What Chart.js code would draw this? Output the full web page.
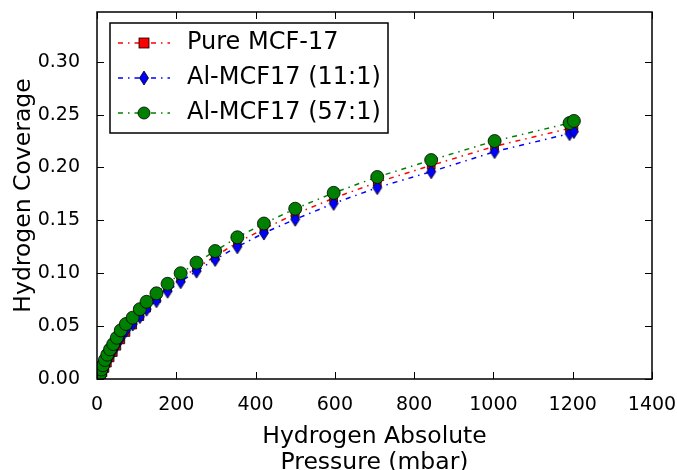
<!DOCTYPE html>
<html>
<head>
<meta charset="utf-8">
<script src="https://cdn.jsdelivr.net/npm/chart.js@4.4.0/dist/chart.umd.min.js"></script>
<style>
    html, body { margin: 0; padding: 0; background: #fff; }
    #wrap { width: 677px; height: 470px; }
</style>
</head>
<body>
<div id="wrap"><canvas id="coverageChart" width="677" height="470"></canvas></div>
<script>
// hydrogen pressure (mbar), same points for all three samples
const pressure = [5, 8, 11, 15, 20, 26, 33, 41, 50, 60, 73, 90, 108, 125, 150, 178, 211, 251, 298, 354, 421, 500, 597, 707, 843, 1003, 1192, 1203];
// hydrogen coverage
const pureCov = [0.000, 0.001, 0.003, 0.006, 0.010, 0.015, 0.020, 0.025, 0.031, 0.037, 0.044, 0.051, 0.059, 0.067, 0.076, 0.086, 0.095, 0.105, 0.116, 0.129, 0.142, 0.156, 0.171, 0.186, 0.202, 0.220, 0.237, 0.239];
const al11Cov = [0.001, 0.002, 0.005, 0.008, 0.012, 0.017, 0.022, 0.027, 0.033, 0.039, 0.046, 0.052, 0.059, 0.066, 0.074, 0.083, 0.092, 0.102, 0.113, 0.125, 0.138, 0.151, 0.166, 0.181, 0.196, 0.215, 0.232, 0.234];
const al57Cov = [0.002, 0.005, 0.009, 0.013, 0.018, 0.023, 0.028, 0.033, 0.039, 0.046, 0.052, 0.058, 0.066, 0.073, 0.081, 0.090, 0.100, 0.110, 0.121, 0.134, 0.147, 0.161, 0.176, 0.191, 0.207, 0.225, 0.242, 0.244];

const seriesLabels = ["Pure MCF-17", "Al-MCF17 (11:1)", "Al-MCF17 (57:1)"];
const yTicks = [0, 0.05, 0.10, 0.15, 0.20, 0.25, 0.30];
const xTicks = [0, 200, 400, 600, 800, 1000, 1200, 1400];

const FONT = "'DejaVu Sans', 'Bitstream Vera Sans', sans-serif";
const dashDot = [5, 5, 1.5, 5];

function toPoints(xs, ys) {
    let pts = [];
    for (let i = 0; i < xs.length; i++) {
        pts.push({x: xs[i], y: ys[i]});
    }
    return pts;
}

// thin diamond marker like matplotlib 'd'
function makeDiamond() {
    let c = document.createElement("canvas");
    c.width = 12;
    c.height = 16;
    let g = c.getContext("2d");
    g.beginPath();
    g.moveTo(6, 1);
    g.lineTo(10.5, 8);
    g.lineTo(6, 15);
    g.lineTo(1.5, 8);
    g.closePath();
    g.fillStyle = "#0000ff";
    g.fill();
    g.lineWidth = 0.8;
    g.strokeStyle = "#000";
    g.stroke();
    return c;
}
const diamond = makeDiamond();

// drop the label overhang padding so the plot box sits where layout.padding says
function noPadding(scale) {
    scale.paddingTop = 0;
    scale.paddingBottom = 0;
    scale.paddingLeft = 0;
    scale.paddingRight = 0;
}

// frame, inward ticks and legend box drawn by hand
const framePlugin = {
    id: "frame",
    afterDraw: function (chart) {
        let ctx = chart.ctx;
        let a = chart.chartArea;
        let xs = chart.scales.x;
        let ys = chart.scales.y;
        ctx.save();
        ctx.strokeStyle = "#000";
        ctx.lineWidth = 1.5;
        ctx.strokeRect(a.left, a.top, a.right - a.left, a.bottom - a.top);
        ctx.lineWidth = 1;
        ctx.beginPath();
        xTicks.forEach(function (v) {
            let px = Math.round(xs.getPixelForValue(v)) + 0.5;
            ctx.moveTo(px, a.bottom);
            ctx.lineTo(px, a.bottom - 7);
            ctx.moveTo(px, a.top);
            ctx.lineTo(px, a.top + 7);
        });
        yTicks.forEach(function (v) {
            let py = Math.round(ys.getPixelForValue(v)) + 0.5;
            ctx.moveTo(a.left, py);
            ctx.lineTo(a.left + 7, py);
            ctx.moveTo(a.right, py);
            ctx.lineTo(a.right - 7, py);
        });
        ctx.stroke();

        // legend
        let bx = 110, by = 23, bw = 278, bh = 110;
        ctx.fillStyle = "#fff";
        ctx.fillRect(bx, by, bw, bh);
        ctx.lineWidth = 1.5;
        ctx.strokeRect(bx, by, bw, bh);
        let colors = ["#ff0000", "#0000ff", "#008000"];
        let rows = [43, 78, 113];
        for (let i = 0; i < 3; i++) {
            let cy = rows[i];
            ctx.setLineDash(dashDot);
            ctx.strokeStyle = colors[i];
            ctx.lineWidth = 1.5;
            ctx.beginPath();
            ctx.moveTo(118, cy);
            ctx.lineTo(170, cy);
            ctx.stroke();
            ctx.setLineDash([]);
            ctx.strokeStyle = "#000";
            ctx.lineWidth = 0.8;
            ctx.fillStyle = colors[i];
            if (i === 0) {
                ctx.fillRect(139, cy - 5, 10, 10);
                ctx.strokeRect(139, cy - 5, 10, 10);
            } else if (i === 1) {
                ctx.drawImage(diamond, 138, cy - 8);
            } else {
                ctx.beginPath();
                ctx.arc(144, cy, 6, 0, Math.PI * 2);
                ctx.fill();
                ctx.stroke();
            }
            ctx.fillStyle = "#000";
            ctx.font = "24px " + FONT;
            ctx.textBaseline = "middle";
            ctx.textAlign = "left";
            ctx.fillText(seriesLabels[i], 187, cy);
        }
        ctx.restore();
    }
};

(function drawChart() {
    let ctx = document.getElementById("coverageChart").getContext("2d");
    // green first so it is painted on top
    let datasets = [
        {
            label: seriesLabels[2],
            data: toPoints(pressure, al57Cov),
            borderColor: "#008000",
            backgroundColor: "#008000",
            pointBorderColor: "#000",
            pointBorderWidth: 0.8,
            pointStyle: "circle",
            pointRadius: 6.5,
            pointHoverRadius: 6.5
        },
        {
            label: seriesLabels[1],
            data: toPoints(pressure, al11Cov),
            borderColor: "#0000ff",
            backgroundColor: "#0000ff",
            pointStyle: diamond,
            pointRadius: 6,
            pointHoverRadius: 6
        },
        {
            label: seriesLabels[0],
            data: toPoints(pressure, pureCov),
            borderColor: "#ff0000",
            backgroundColor: "#ff0000",
            pointBorderColor: "#000",
            pointBorderWidth: 0.8,
            pointStyle: "rect",
            pointRadius: 5.5,
            pointHoverRadius: 5.5
        }
    ];
    datasets.forEach(function (d) {
        d.showLine = true;
        d.borderWidth = 1.5;
        d.borderDash = dashDot;
        d.fill = false;
        d.tension = 0;
    });

    new Chart(ctx, {
        type: "scatter",
        data: {datasets: datasets},
        options: {
            responsive: false,
            animation: false,
            devicePixelRatio: 1,
            layout: {padding: {top: 12, right: 25, left: 0, bottom: 0}},
            plugins: {
                legend: {display: false},
                tooltip: {enabled: false}
            },
            scales: {
                x: {
                    type: "linear",
                    min: 0,
                    max: 1400,
                    afterFit: function (scale) {
                        scale.height = 91;
                        noPadding(scale);
                    },
                    grid: {display: false},
                    border: {display: false},
                    ticks: {
                        stepSize: 200,
                        padding: 7,
                        color: "#000",
                        maxRotation: 0,
                        font: {family: FONT, size: 19},
                        callback: function (v) { return String(v); }
                    },
                    title: {
                        display: true,
                        text: ["Hydrogen Absolute", "Pressure (mbar)"],
                        color: "#000",
                        font: {family: FONT, size: 23.5, lineHeight: 1.1},
                        padding: {top: 0, bottom: -6}
                    }
                },
                y: {
                    type: "linear",
                    min: 0,
                    max: 0.347,
                    afterFit: function (scale) {
                        scale.width = 97;
                        noPadding(scale);
                    },
                    grid: {display: false},
                    border: {display: false},
                    ticks: {
                        stepSize: 0.05,
                        includeBounds: false,
                        padding: 9,
                        color: "#000",
                        font: {family: FONT, size: 19},
                        callback: function (v) { return v.toFixed(2); }
                    },
                    title: {
                        display: true,
                        text: "Hydrogen Coverage",
                        color: "#000",
                        font: {family: FONT, size: 23.5},
                        padding: {top: 10, bottom: 4}
                    }
                }
            }
        },
        plugins: [framePlugin]
    });
})();
</script>
</body>
</html>
